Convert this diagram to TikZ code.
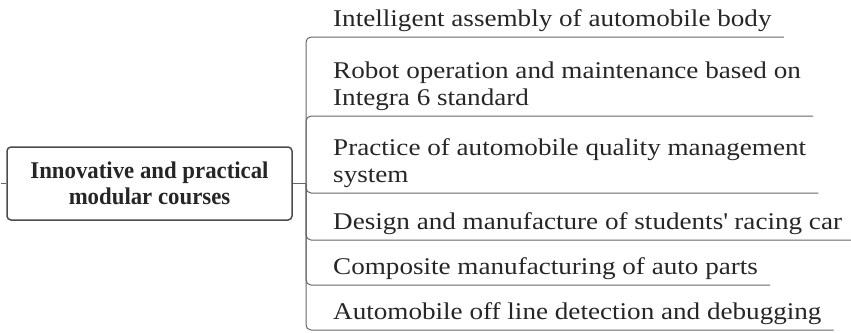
\documentclass[tikz,border=0pt]{standalone}
\usepackage{fontspec}
\setmainfont{Liberation Serif}
\newfontfamily\topicfont[FakeStretch=1.13]{Liberation Serif}
\newfontfamily\rootfont[FakeStretch=0.95]{Liberation Serif}

\begin{document}
\begin{tikzpicture}[x=1pt,y=-1pt,
  topic/.style={anchor=south west, align=left, inner xsep=12pt, inner ysep=10pt, text depth=0pt,
    font=\topicfont\fontsize{24}{27}\selectfont, text=black!85},
  rootbox/.style={draw=black!70, line width=1.5pt, rounded corners=4pt, minimum width=285pt,
    minimum height=73pt, align=center, font=\rootfont\fontsize{24}{26}\selectfont\bfseries, text=black!85},
  branch/.style={draw=black!60, line width=1pt, rounded corners=5pt}]
\useasboundingbox (0,0) rectangle (851,332);
\node[rootbox](root) at (149.5,183.5) {Innovative and practical\\modular courses};
\coordinate(stub) at (1,183.5);
\coordinate(hub) at (306,183.5);
%
\node[topic](c1) at (321,37) {Intelligent assembly of automobile body};
\node[topic](c2) at (321,116) {Robot operation and maintenance based on\\Integra 6 standard};
\node[topic](c3) at (321,193) {Practice of automobile quality management\\system};
\node[topic](c4) at (321,240) {Design and manufacture of students\textquotesingle{} racing car};
\node[topic](c5) at (321,285) {Composite manufacturing of auto parts};
\node[topic](c6) at (321,330) {Automobile off line detection and debugging};
%
\draw[branch](stub) -- (root.west);
\draw[branch](root.east) -- (hub);
\foreach \c in {c1,c2,c3,c4,c5,c6}
  \draw[branch](hub) |- (\c.south east);
\end{tikzpicture}
\end{document}
